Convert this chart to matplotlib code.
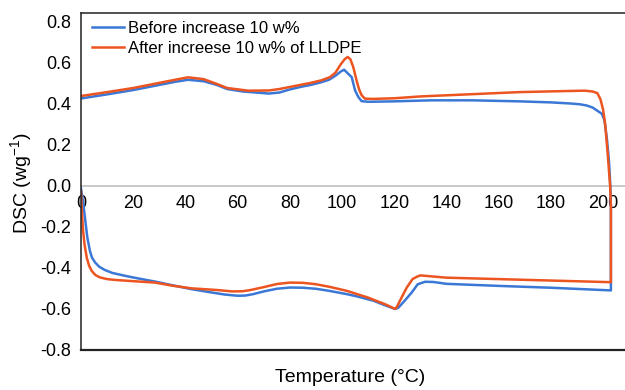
import matplotlib.pyplot as plt

plt.rcParams["font.family"] = ["Liberation Sans", "DejaVu Sans"]
plt.rcParams["mathtext.fontset"] = "custom"
plt.rcParams["mathtext.rm"] = "Liberation Sans"
plt.rcParams["mathtext.default"] = "regular"

# Heating run (upper), drop at ~203 C, then cooling run (lower) back to 0
temp_before = [0, 10, 20, 30, 36, 41, 47, 52, 56, 62, 68, 72, 76, 80, 84, 88, 92, 95,
               97.5, 99.5, 100.8, 102.3, 103.7, 105, 106.3, 107.5, 110, 120, 134, 150,
               168, 180, 187, 191, 193.7, 196, 197.6, 199.5, 200.5, 201.4, 202.2, 202.7,
               203, 203,
               180, 160, 140, 135, 131.8, 129, 126.7, 124, 121.5, 120.3, 117, 112, 106,
               101.8, 95, 90, 85, 80, 75, 70, 66, 63, 60, 55, 50, 42.4, 35, 28.4, 22,
               16.9, 12, 9.2, 7, 5.4, 4.2, 3.4, 2.4, 1.5, 0.7, 0]
dsc_before = [0.424, 0.444, 0.465, 0.49, 0.505, 0.515, 0.508, 0.49, 0.47, 0.458, 0.452,
              0.448, 0.453, 0.468, 0.48, 0.49, 0.503, 0.515, 0.535, 0.555, 0.564, 0.545,
              0.528, 0.463, 0.43, 0.411, 0.408, 0.41, 0.415, 0.415, 0.41, 0.405, 0.40,
              0.396, 0.39, 0.38, 0.366, 0.35, 0.32, 0.236, 0.13, 0.02,
              -0.1, -0.51,
              -0.497, -0.488, -0.478, -0.469, -0.468, -0.48, -0.52, -0.56, -0.595, -0.60,
              -0.585, -0.56, -0.54, -0.528, -0.512, -0.502, -0.497, -0.496, -0.502,
              -0.515, -0.528, -0.535, -0.536, -0.53, -0.52, -0.504, -0.485, -0.467,
              -0.452, -0.439, -0.425, -0.411, -0.395, -0.374, -0.35, -0.317, -0.25,
              -0.155, -0.07, -0.015]

temp_after = [0, 10, 20, 30, 36, 41, 47, 52, 56, 64, 72, 76, 80, 84, 88, 92, 95.4,
              97.5, 99.5, 101, 102.2, 103.2, 104.3, 105.6, 106.5, 107.5, 108.8, 112,
              120, 130, 150, 168, 185, 193, 196, 197.8, 199, 200, 200.8, 201.8, 202.7,
              203, 203,
              180, 160, 140, 130, 128.6, 127, 124.8, 123, 121, 120.3, 117, 110, 101.8,
              95, 90, 85, 80, 75, 70, 65, 62, 58, 52, 42.4, 35, 28.4, 20, 13, 10, 7.3,
              5.5, 4.1, 3.1, 2.2, 1.4, 0.8, 0.3, 0]
dsc_after = [0.436, 0.455, 0.475, 0.5, 0.515, 0.527, 0.518, 0.495, 0.475, 0.462, 0.463,
             0.47, 0.48, 0.49, 0.50, 0.512, 0.528, 0.55, 0.59, 0.615, 0.626, 0.615, 0.577,
             0.51, 0.47, 0.44, 0.423, 0.422, 0.425, 0.434, 0.445, 0.455, 0.46, 0.462,
             0.458, 0.45, 0.42, 0.37, 0.3, 0.15, 0.0,
             -0.1, -0.47,
             -0.462, -0.455, -0.448, -0.437, -0.444, -0.455, -0.496, -0.54, -0.59, -0.60,
             -0.58, -0.545, -0.512, -0.492, -0.48, -0.473, -0.472, -0.479, -0.494,
             -0.508, -0.514, -0.515, -0.508, -0.50, -0.487, -0.472, -0.465, -0.459,
             -0.455, -0.447, -0.435, -0.415, -0.39, -0.35, -0.29, -0.22, -0.12, -0.03]

label_before = "Before increase 10 w%"
label_after = "After increese 10 w% of LLDPE"
xticks = list(range(0, 201, 20))
yticks = [-0.8, -0.6, -0.4, -0.2, 0.0, 0.2, 0.4, 0.6, 0.8]

BLUE = "#3B78D6"
ORANGE = "#EC5420"

fig = plt.figure(figsize=(6.25, 3.9), dpi=100)
ax = fig.add_axes([81 / 625, 1 - 350 / 390, 1 - 81 / 625, (350 - 13) / 390])

ax.plot(temp_before, dsc_before, color=BLUE, lw=1.8, label=label_before,
        solid_joinstyle="round")
ax.plot(temp_after, dsc_after, color=ORANGE, lw=1.8, label=label_after,
        solid_joinstyle="round")

ax.set_xlim(0, 208.4)
ax.set_ylim(-0.8, 0.84)

# x axis crosses at y = 0 (grey line), labels sit just below it
ax.spines["bottom"].set_position(("data", 0))
ax.spines["bottom"].set_color("#BFBFBF")
ax.spines["bottom"].set_linewidth(1.2)
ax.spines["bottom"].set_zorder(1)
ax.spines["right"].set_visible(False)
for side in ("left", "top"):
    ax.spines[side].set_color("#222222")
    ax.spines[side].set_linewidth(1.1)
ax.axhline(-0.8, color="#222222", lw=1.6, clip_on=False)

ax.set_xticks(xticks)
ax.set_xticklabels([str(t) for t in xticks])
ax.set_yticks(yticks)
ax.set_yticklabels([f"{v:.1f}" for v in yticks])
ax.tick_params(axis="x", length=0, pad=7, labelsize=13)
ax.tick_params(axis="y", length=0, pad=7, labelsize=13)

ax.legend(loc="upper left", frameon=False, fontsize=12, handlelength=1.9,
          handletextpad=0.25, borderaxespad=0.1, labelspacing=0.3,
          bbox_to_anchor=(0.005, 1.0))

fig.text(350 / 625, 1 - 378 / 390, "Temperature (°C)", ha="center", va="center",
         fontsize=14)
fig.text(21 / 625, 1 - 183 / 390, "DSC (wg$^{-1}$)", ha="center", va="center",
         rotation=90, fontsize=14)

fig.savefig("out.png", dpi=100)
